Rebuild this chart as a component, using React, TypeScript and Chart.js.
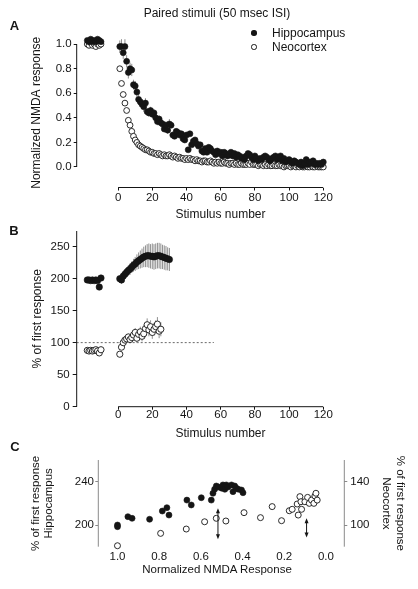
import React, { useEffect, useRef } from "react";
import { Chart, registerables } from "chart.js";

Chart.register(...registerables);

const FONT = "'Liberation Sans', Arial, Helvetica, sans-serif";
const INK = "#151515";
const AXIS_GRAY = "#8a8a8a";
const ERR_GRAY = "#8f8f8f";

// ---------------- Panel A : Normalized NMDA response ----------------
const A_PRE_STIM = [-18, -17, -16, -15, -14, -13, -12, -11, -10];
const A_HIPPO_PRE = [1.03, 1.02, 1.04, 1.02, 1.03, 1.02, 1.04, 1.03, 1.02];
const A_NEO_PRE = [1.0, 0.99, 1.01, 0.99, 1.0, 0.98, 1.0, 0.99, 1.0];
const A_STIM = Array.from({ length: 120 }, (_, i) => i + 1);
const A_HIPPO = [
  0.98, 0.98, 0.93, 0.98, 0.86, 0.77, 0.8, 0.79, 0.67, 0.66,
  0.61, 0.55, 0.53, 0.51, 0.49, 0.52, 0.45, 0.44, 0.46, 0.43,
  0.44, 0.4, 0.37, 0.39, 0.36, 0.35, 0.31, 0.34, 0.3, 0.35,
  0.34, 0.26, 0.25, 0.29, 0.28, 0.26, 0.27, 0.23, 0.22, 0.26,
  0.14, 0.27, 0.18, 0.21, 0.22, 0.19, 0.17, 0.18, 0.13, 0.12,
  0.15, 0.12, 0.16, 0.15, 0.13, 0.12, 0.1, 0.13, 0.11, 0.12,
  0.09, 0.12, 0.11, 0.09, 0.1, 0.12, 0.09, 0.11, 0.08, 0.1,
  0.09, 0.07, 0.08, 0.06, 0.09, 0.11, 0.1, 0.08, 0.06, 0.09,
  0.07, 0.05, 0.07, 0.06, 0.08, 0.09, 0.08, 0.06, 0.05, 0.07,
  0.08, 0.09, 0.06, 0.08, 0.09, 0.05, 0.07, 0.04, 0.05, 0.06,
  0.04, 0.03, 0.05, 0.04, 0.03, 0.02, 0.04, 0.01, 0.03, 0.06,
  0.02, 0.04, 0.03, 0.05, 0.02, 0.03, 0.02, 0.03, 0.02, 0.04,
];
const A_HIPPO_ERR = [
  0.05, 0.06, 0.05, 0.06, 0.05, 0.05, 0.05, 0.05, 0.04, 0.04,
  0.04, 0.04, 0.04, 0.04, 0.04, 0.04, 0.03, 0.03, 0.03, 0.03,
  0.03, 0.03, 0.03, 0.03, 0.03, 0.03, 0.03, 0.03, 0.03, 0.04,
];
const A_NEO = [
  0.8, 0.68, 0.59, 0.52, 0.46, 0.38, 0.34, 0.29, 0.25, 0.22,
  0.2, 0.18, 0.17, 0.16, 0.15, 0.14, 0.14, 0.13, 0.12, 0.12,
  0.11, 0.11, 0.1, 0.11, 0.1, 0.09, 0.1, 0.09, 0.09, 0.1,
  0.09, 0.08, 0.09, 0.08, 0.07, 0.08, 0.07, 0.07, 0.06, 0.07,
  0.06, 0.07, 0.06, 0.06, 0.05, 0.06, 0.05, 0.05, 0.04, 0.05,
  0.05, 0.04, 0.04, 0.05, 0.04, 0.03, 0.04, 0.03, 0.04, 0.03,
  0.03, 0.04, 0.03, 0.03, 0.02, 0.03, 0.03, 0.02, 0.03, 0.02,
  0.02, 0.03, 0.02, 0.02, 0.02, 0.03, 0.02, 0.04, 0.02, 0.02,
  0.02, 0.01, 0.02, 0.02, 0.01, 0.02, 0.01, 0.02, 0.01, 0.01,
  0.02, 0.01, 0.01, 0.02, 0.01, 0.01, 0.0, 0.01, 0.01, 0.01,
  0.0, 0.01, 0.01, 0.0, 0.01, 0.0, 0.01, 0.0, 0.0, 0.01,
  0.0, 0.0, 0.01, 0.0, 0.0, 0.01, 0.0, 0.0, 0.0, 0.0,
];
const A_X_TICKS = [0, 20, 40, 60, 80, 100, 120];
const A_Y_TICKS = [0, 0.2, 0.4, 0.6, 0.8, 1.0];

// ---------------- Panel B : % of first response ----------------
const B_PRE_STIM = [-18, -17, -16, -15, -14, -13, -12, -11, -10];
const B_HIPPO_PRE = [198, 198, 197, 198, 197, 198, 197, 187, 201];
const B_NEO_PRE = [88, 87, 88, 87, 88, 89, 87, 84, 89];
const B_HIPPO_STIM = Array.from({ length: 30 }, (_, i) => i + 1);
const B_HIPPO = [
  200, 198, 204, 207, 210, 213, 215, 218, 221, 223,
  226, 228, 230, 232, 234, 235, 236, 236, 235, 235,
  234, 235, 236, 236, 235, 234, 233, 232, 231, 230,
];
const B_HIPPO_ERR = [
  5, 6, 6, 7, 7, 8, 9, 9, 10, 11,
  12, 13, 14, 15, 16, 17, 18, 19, 19, 20,
  20, 20, 20, 20, 20, 19, 19, 19, 18, 18,
];
const B_NEO_STIM = Array.from({ length: 25 }, (_, i) => i + 1);
const B_NEO = [
  82, 93, 100, 104, 106, 109, 105, 108, 112, 116,
  107, 113, 117, 110, 114, 122, 128, 120, 125, 116,
  121, 125, 129, 118, 121,
];
const B_NEO_ERR = [
  3, 4, 4, 5, 5, 5, 6, 6, 6, 7,
  7, 7, 8, 8, 8, 9, 10, 10, 10, 10,
  10, 10, 11, 11, 11,
];
const B_BASELINE = 100;
const B_BASELINE_END = 56;
const B_X_TICKS = [0, 20, 40, 60, 80, 100, 120];
const B_Y_TICKS = [0, 50, 100, 150, 200, 250];

// ---------------- Panel C : response vs NMDA ----------------
const C_HIPPO_X = [
  1.0, 1.0, 0.95, 0.93, 0.846, 0.785, 0.763, 0.753, 0.667, 0.646,
  0.598, 0.55, 0.542, 0.534, 0.526, 0.515, 0.5, 0.494, 0.485, 0.478,
  0.47, 0.453, 0.446, 0.4375, 0.43, 0.42, 0.405, 0.398,
];
const C_HIPPO_Y = [
  200, 198.5, 207.7, 206.2, 205.3, 212.9, 216, 209.2, 223, 218.5,
  225.2, 223, 229.3, 233, 236, 235, 234, 237, 233, 237,
  235, 237, 230.8, 236, 234, 233, 232.3, 229.8,
];
const C_NEO_X = [
  1.0, 0.793, 0.67, 0.582, 0.526, 0.48, 0.393, 0.314, 0.258, 0.213,
  0.176, 0.162, 0.138, 0.133, 0.125, 0.12, 0.117, 0.101, 0.088, 0.08,
  0.069, 0.058, 0.053, 0.048, 0.042,
];
const C_NEO_Y = [
  80.9, 92.3, 96.3, 103, 106.2, 103.7, 111.4, 106.8, 117, 104,
  113.2, 114.5, 119.4, 109.2, 126.2, 121.5, 114.5, 121.5, 125.5, 120,
  123, 120, 126.8, 129.3, 123,
];
const C_ARROW_X = [0.518, 0.093];
const C_ARROW_LO = [186.8, 188.6];
const C_ARROW_HI = [215.4, 206.2];
const C_X_TICKS = [0, 0.2, 0.4, 0.6, 0.8, 1.0];
const C_YL_TICKS = [200, 240];
const C_YR_TICKS = [100, 140];

// ---------------- helpers ----------------
const pts = (xs: number[], ys: number[]) => xs.map((x, i) => ({ x, y: ys[i] }));

type Line = { x0: number; y0: number; x1: number; y1: number; xAxis?: string; yAxis?: string; color: string; width?: number; dash?: number[] };
type Arrow = { x: number; lo: number; hi: number; xAxis?: string; yAxis?: string };

function makeDecor(lines: Line[], arrows: Arrow[] = []) {
  return {
    id: "decor",
    beforeDatasetsDraw(chart: any) {
      const ctx = chart.ctx;
      ctx.save();
      for (const l of lines) {
        const xs = chart.scales[l.xAxis || "x"];
        const ys = chart.scales[l.yAxis || "y"];
        ctx.beginPath();
        ctx.strokeStyle = l.color;
        ctx.lineWidth = l.width ?? 1;
        ctx.setLineDash(l.dash || []);
        ctx.moveTo(xs.getPixelForValue(l.x0), ys.getPixelForValue(l.y0));
        ctx.lineTo(xs.getPixelForValue(l.x1), ys.getPixelForValue(l.y1));
        ctx.stroke();
      }
      ctx.setLineDash([]);
      chart.data.datasets.forEach((ds: any, di: number) => {
        if (!ds.errorBars) return;
        const meta = chart.getDatasetMeta(di);
        const xs = chart.scales[meta.xAxisID];
        const ys = chart.scales[meta.yAxisID];
        ctx.strokeStyle = ERR_GRAY;
        ctx.lineWidth = 1;
        ds.data.forEach((p: any, i: number) => {
          const e = ds.errorBars[i];
          if (!e) return;
          const px = xs.getPixelForValue(p.x);
          ctx.beginPath();
          ctx.moveTo(px, ys.getPixelForValue(p.y - e));
          ctx.lineTo(px, ys.getPixelForValue(p.y + e));
          ctx.stroke();
        });
      });
      ctx.restore();
    },
    afterDatasetsDraw(chart: any) {
      const ctx = chart.ctx;
      ctx.save();
      ctx.strokeStyle = INK;
      ctx.fillStyle = INK;
      ctx.lineWidth = 1;
      for (const a of arrows) {
        const xs = chart.scales[a.xAxis || "x"];
        const ys = chart.scales[a.yAxis || "y"];
        const px = xs.getPixelForValue(a.x);
        const top = ys.getPixelForValue(a.hi);
        const bot = ys.getPixelForValue(a.lo);
        ctx.beginPath();
        ctx.moveTo(px, top + 3);
        ctx.lineTo(px, bot - 3);
        ctx.stroke();
        ctx.beginPath();
        ctx.moveTo(px, top);
        ctx.lineTo(px - 2, top + 5);
        ctx.lineTo(px + 2, top + 5);
        ctx.closePath();
        ctx.fill();
        ctx.beginPath();
        ctx.moveTo(px, bot);
        ctx.lineTo(px - 2, bot - 5);
        ctx.lineTo(px + 2, bot - 5);
        ctx.closePath();
        ctx.fill();
      }
      ctx.restore();
    },
  };
}

const tickFont = { family: FONT, size: 11.5, lineHeight: 1 };
const setTicks = (vals: number[]) => (s: any) => {
  s.ticks = vals.map((v) => ({ value: v }));
};

const filled = (r: number) => ({
  pointRadius: r,
  pointBackgroundColor: INK,
  pointBorderColor: INK,
  pointBorderWidth: 0.6,
  pointHoverRadius: r,
  clip: false as any,
});
const open = (r: number) => ({
  pointRadius: r,
  pointBackgroundColor: "#ffffff",
  pointBorderColor: INK,
  pointBorderWidth: 0.9,
  pointHoverRadius: r,
  clip: false as any,
});

// geometry
const A_XMIN = -24.2;
const A_H = 222;
const B_H = 200;
const C_H = 167;

function makeA(canvas: HTMLCanvasElement) {
  const yMin = -0.167;
  const yMax = 1.05;
  return new Chart(canvas, {
    type: "scatter",
    data: {
      datasets: [
        {
          label: "Hippocampus",
          data: [...pts(A_PRE_STIM, A_HIPPO_PRE), ...pts(A_STIM, A_HIPPO)],
          errorBars: [...A_PRE_STIM.map(() => 0), ...A_HIPPO_ERR],
          order: 0,
          ...filled(3),
        } as any,
        {
          label: "Neocortex",
          data: [...pts(A_PRE_STIM, A_NEO_PRE), ...pts(A_STIM, A_NEO)],
          order: 1,
          ...open(2.9),
        } as any,
      ],
    },
    options: {
      responsive: false,
      animation: false,
      events: [],
      layout: { padding: { top: 38, right: 94.7, left: 0, bottom: 0 } },
      plugins: { legend: { display: false }, tooltip: { enabled: false } },
      scales: {
        x: {
          type: "linear",
          min: A_XMIN,
          max: 120,
          afterBuildTicks: setTicks(A_X_TICKS),
          afterFit: (s: any) => { s.height = A_H - 187.5; },
          border: { display: false },
          grid: { drawOnChartArea: false, drawTicks: true, tickLength: 3, color: INK, lineWidth: 1 },
          ticks: { color: INK, font: tickFont, padding: 2, maxRotation: 0, autoSkip: false, callback: (v: any) => String(v) },
        },
        y: {
          type: "linear",
          min: yMin,
          max: yMax,
          afterBuildTicks: setTicks(A_Y_TICKS),
          afterFit: (s: any) => { s.width = 76.7; },
          border: { display: false },
          grid: { drawOnChartArea: false, drawTicks: true, tickLength: 3, color: INK, lineWidth: 1 },
          ticks: { color: INK, font: tickFont, padding: 2, autoSkip: false, callback: (v: any) => Number(v).toFixed(1) },
          title: { display: true, text: "Normalized NMDA response", color: INK, font: { family: FONT, size: 12, lineHeight: "12px" }, padding: { top: 31, bottom: 0 } },
        },
      },
    } as any,
    plugins: [
      makeDecor([
        { x0: A_XMIN, y0: 0, x1: A_XMIN, y1: 1.0, color: INK },
        { x0: 0, y0: yMin, x1: 120, y1: yMin, color: INK },
      ]),
    ],
  });
}

function makeB(canvas: HTMLCanvasElement) {
  const yMax = 274.5;
  return new Chart(canvas, {
    type: "scatter",
    data: {
      datasets: [
        {
          label: "Hippocampus",
          data: [...pts(B_PRE_STIM, B_HIPPO_PRE), ...pts(B_HIPPO_STIM, B_HIPPO)],
          errorBars: [...B_PRE_STIM.map(() => 0), ...B_HIPPO_ERR],
          order: 0,
          ...filled(3.2),
        } as any,
        {
          label: "Neocortex",
          data: [...pts(B_PRE_STIM, B_NEO_PRE), ...pts(B_NEO_STIM, B_NEO)],
          errorBars: [...B_PRE_STIM.map(() => 0), ...B_NEO_ERR],
          order: 1,
          ...open(3.1),
        } as any,
      ],
    },
    options: {
      responsive: false,
      animation: false,
      events: [],
      layout: { padding: { top: 9, right: 94.7, left: 0, bottom: 0 } },
      plugins: { legend: { display: false }, tooltip: { enabled: false } },
      scales: {
        x: {
          type: "linear",
          min: A_XMIN,
          max: 120,
          afterBuildTicks: setTicks(B_X_TICKS),
          afterFit: (s: any) => { s.height = B_H - 184.7; },
          border: { display: false },
          grid: { drawOnChartArea: false, drawTicks: true, tickLength: 3, color: INK, lineWidth: 1 },
          ticks: { color: INK, font: tickFont, padding: -1, maxRotation: 0, autoSkip: false, callback: (v: any) => String(v) },
        },
        y: {
          type: "linear",
          min: 0,
          max: yMax,
          afterBuildTicks: setTicks(B_Y_TICKS),
          afterFit: (s: any) => { s.width = 76.7; },
          border: { display: false },
          grid: { drawOnChartArea: false, drawTicks: true, tickLength: 4, color: INK, lineWidth: 1 },
          ticks: { color: INK, font: tickFont, padding: 3, autoSkip: false, callback: (v: any) => String(v) },
          title: { display: true, text: "% of first response", color: INK, font: { family: FONT, size: 12, lineHeight: "12px" }, padding: { top: 32, bottom: 0 } },
        },
      },
    } as any,
    plugins: [
      makeDecor([
        { x0: A_XMIN, y0: 0, x1: A_XMIN, y1: yMax, color: INK },
        { x0: 0, y0: 0, x1: 120, y1: 0, color: INK },
        { x0: A_XMIN, y0: B_BASELINE, x1: B_BASELINE_END, y1: B_BASELINE, color: "#444", width: 0.8, dash: [2, 2] },
      ]),
    ],
  });
}

function makeC(canvas: HTMLCanvasElement) {
  const xMin = -0.088;
  const xMax = 1.092;
  return new Chart(canvas, {
    type: "scatter",
    data: {
      datasets: [
        {
          label: "Hippocampus",
          data: pts(C_HIPPO_X, C_HIPPO_Y),
          yAxisID: "y",
          order: 0,
          ...filled(3),
        } as any,
        {
          label: "Neocortex",
          data: pts(C_NEO_X, C_NEO_Y),
          yAxisID: "y2",
          order: 1,
          ...open(3),
        } as any,
      ],
    },
    options: {
      responsive: false,
      animation: false,
      events: [],
      layout: { padding: { top: 38, right: 0, left: 0, bottom: 0 } },
      plugins: { legend: { display: false }, tooltip: { enabled: false } },
      scales: {
        x: {
          type: "linear",
          reverse: true,
          min: xMin,
          max: xMax,
          afterBuildTicks: setTicks(C_X_TICKS),
          afterFit: (s: any) => { s.height = C_H - 124.7; },
          border: { display: false },
          grid: { display: false, drawTicks: false, tickLength: 0 },
          ticks: { color: INK, font: tickFont, padding: 4.3, maxRotation: 0, autoSkip: false, callback: (v: any) => Number(v).toFixed(1) },
        },
        y: {
          type: "linear",
          position: "left",
          min: 180,
          max: 260,
          afterBuildTicks: setTicks(C_YL_TICKS),
          afterFit: (s: any) => { s.width = 98.3; },
          border: { display: false },
          grid: { drawOnChartArea: false, drawTicks: true, tickLength: 3, color: AXIS_GRAY, lineWidth: 1 },
          ticks: { color: INK, font: tickFont, padding: 1.3, autoSkip: false, callback: (v: any) => String(v) },
          title: { display: true, text: ["% of first response", "Hippocampus"], color: INK, font: { family: FONT, size: 11.5, lineHeight: "12.4px" }, padding: { top: 30.1, bottom: 0 } },
        },
        y2: {
          type: "linear",
          position: "right",
          min: 80,
          max: 160,
          afterBuildTicks: setTicks(C_YR_TICKS),
          afterFit: (s: any) => { s.width = 73.7; },
          border: { display: false },
          grid: { drawOnChartArea: false, drawTicks: true, tickLength: 3, color: AXIS_GRAY, lineWidth: 1 },
          ticks: { color: INK, font: tickFont, padding: 3, autoSkip: false, callback: (v: any) => String(v) },
          title: { display: true, text: ["% of first response", "Neocortex"], color: INK, font: { family: FONT, size: 11.5, lineHeight: "14px" }, padding: { top: 11, bottom: 0 } },
        },
      },
    } as any,
    plugins: [
      makeDecor(
        [
          { x0: xMax, y0: 180, x1: xMax, y1: 260, color: AXIS_GRAY },
          { x0: xMin, y0: 180, x1: xMin, y1: 260, color: AXIS_GRAY },
        ],
        C_ARROW_X.map((x, i) => ({ x, lo: C_ARROW_LO[i], hi: C_ARROW_HI[i] }))
      ),
    ],
  });
}

const txt = (extra: React.CSSProperties): React.CSSProperties => ({
  position: "absolute",
  transform: "translate(-50%, -50%)",
  whiteSpace: "nowrap",
  lineHeight: 1,
  color: INK,
  fontFamily: FONT,
  fontSize: 12,
  ...extra,
});

export default function App() {
  const refA = useRef<HTMLCanvasElement>(null);
  const refB = useRef<HTMLCanvasElement>(null);
  const refC = useRef<HTMLCanvasElement>(null);

  useEffect(() => {
    Chart.defaults.font.family = FONT;
    Chart.defaults.color = INK;
    const a = makeA(refA.current!);
    const b = makeB(refB.current!);
    const c = makeC(refC.current!);
    return () => {
      a.destroy();
      b.destroy();
      c.destroy();
    };
  }, []);

  const cv = (top: number, h: number): React.CSSProperties => ({
    position: "absolute",
    left: 0,
    top,
    width: 418,
    height: h,
    display: "block",
  });

  return (
    <div style={{ position: "absolute", left: 0, top: 0, width: 418, height: 589, background: "#fff", overflow: "hidden", fontFamily: FONT }}>
      <canvas ref={refA} width={418} height={A_H} style={cv(0, A_H)} />
      <canvas ref={refB} width={418} height={B_H} style={cv(222, B_H)} />
      <canvas ref={refC} width={418} height={C_H} style={cv(422, C_H)} />

      <div style={txt({ left: 217, top: 12.7 })}>Paired stimuli (50 msec ISI)</div>
      <div style={txt({ left: 14.5, top: 25, fontWeight: "bold", fontSize: 13 })}>A</div>
      <div style={txt({ left: 14, top: 230, fontWeight: "bold", fontSize: 13 })}>B</div>
      <div style={txt({ left: 15, top: 445.7, fontWeight: "bold", fontSize: 13 })}>C</div>

      <div style={{ position: "absolute", left: 251.3, top: 30.3, width: 5.4, height: 5.4, borderRadius: "50%", background: INK }} />
      <div style={txt({ left: 272, top: 33, transform: "translate(0, -50%)" })}>Hippocampus</div>
      <div style={{ position: "absolute", left: 251.3, top: 44.3, width: 5.4, height: 5.4, borderRadius: "50%", border: `1px solid ${INK}`, boxSizing: "border-box", background: "#fff" }} />
      <div style={txt({ left: 272, top: 47, transform: "translate(0, -50%)" })}>Neocortex</div>

      <div style={txt({ left: 220.5, top: 214 })}>Stimulus number</div>
      <div style={txt({ left: 220.5, top: 433.3 })}>Stimulus number</div>
      <div style={txt({ left: 217, top: 570, fontSize: 11.5 })}>Normalized NMDA Response</div>
    </div>
  );
}
